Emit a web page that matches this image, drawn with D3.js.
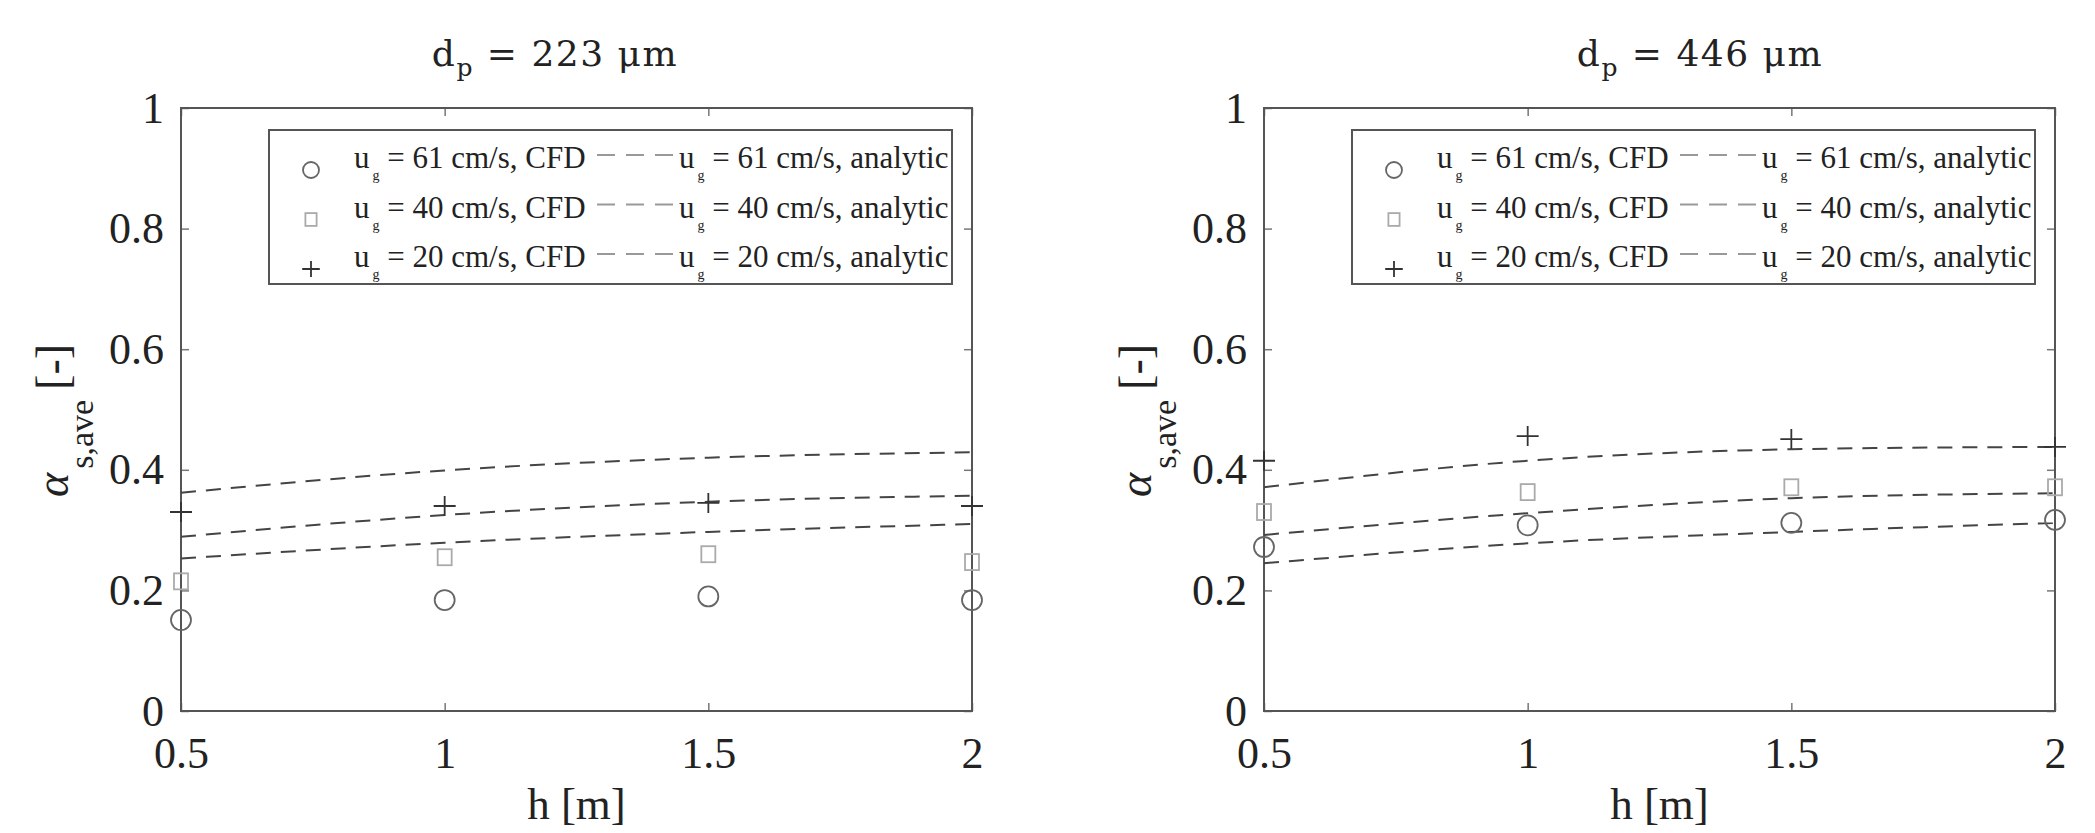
<!DOCTYPE html>
<html>
<head>
<meta charset="utf-8">
<script src="https://cdn.jsdelivr.net/npm/d3@7"></script>
<style>
  body { margin: 0; background: #fff; }
  text { font-family: "Liberation Serif", serif; fill: #222; }
</style>
</head>
<body>
<div id="chart"></div>
<script>
const width = 2095;
const height = 833;

// values
const hValues = [0.5, 1, 1.5, 2];
const hTicks = [0.5, 1, 1.5, 2];
const alphaTicks = [0, 0.2, 0.4, 0.6, 0.8, 1];
const velocities = ["61", "40", "20"];

const cfd223_61 = [0.151, 0.184, 0.19, 0.184];
const cfd223_40 = [0.215, 0.255, 0.26, 0.247];
const cfd223_20 = [0.33, 0.34, 0.345, 0.34];
const ana223_61 = [0.253, 0.279, 0.297, 0.31];
const ana223_40 = [0.289, 0.325, 0.347, 0.357];
const ana223_20 = [0.362, 0.399, 0.42, 0.429];

const cfd446_61 = [0.272, 0.308, 0.312, 0.317];
const cfd446_40 = [0.33, 0.363, 0.371, 0.371];
const cfd446_20 = [0.415, 0.456, 0.451, 0.438];
const ana446_61 = [0.245, 0.278, 0.297, 0.312];
const ana446_40 = [0.292, 0.328, 0.353, 0.361];
const ana446_20 = [0.371, 0.415, 0.434, 0.438];

const panels = [
  { title: "223", left: 181, right: 972, titleX: 555,
    cfd: [cfd223_61, cfd223_40, cfd223_20], ana: [ana223_61, ana223_40, ana223_20] },
  { title: "446", left: 1264, right: 2055, titleX: 1700,
    cfd: [cfd446_61, cfd446_40, cfd446_20], ana: [ana446_61, ana446_40, ana446_20] }
];

const plotTop = 108, plotBottom = 711;
const markerColor = ["#666", "#aaa", "#333"];

const svg = d3.select("#chart")
  .append("svg")
  .attr("width", width)
  .attr("height", height)
  .attr("viewBox", [0, 0, width, height]);

svg.append("rect").attr("width", width).attr("height", height).attr("fill", "#fff");

// draws one marker of series i at (px,py)
function marker(g, i, px, py, s) {
  if (i === 0) {
    g.append("circle").attr("cx", px).attr("cy", py).attr("r", 10 * s)
      .attr("fill", "none").attr("stroke", markerColor[0]).attr("stroke-width", 1.8);
  } else if (i === 1) {
    g.append("rect").attr("x", px - 7 * s).attr("y", py - 8 * s)
      .attr("width", 14 * s).attr("height", 16 * s)
      .attr("fill", "none").attr("stroke", markerColor[1]).attr("stroke-width", 1.8);
  } else {
    g.append("path").attr("d", `M${px - 11 * s},${py}H${px + 11 * s}M${px},${py - 10 * s}V${py + 10 * s}`)
      .attr("stroke", markerColor[2]).attr("stroke-width", 1.8);
  }
}

panels.forEach(p => {
  const x = d3.scaleLinear().domain([0.5, 2]).range([p.left, p.right]);
  const y = d3.scaleLinear().domain([0, 1]).range([plotBottom, plotTop]);
  const g = svg.append("g");

  // axes with inward ticks
  const xa = g.append("g").attr("transform", `translate(0,${plotBottom})`)
    .call(d3.axisBottom(x).tickValues(hTicks).tickSize(-8).tickPadding(26).tickFormat(d3.format("")))
    .attr("font-size", 44);
  const xt = g.append("g").attr("transform", `translate(0,${plotTop})`)
    .call(d3.axisTop(x).tickValues(hTicks).tickSize(-8).tickFormat(""));
  const ya = g.append("g").attr("transform", `translate(${p.left},0)`)
    .call(d3.axisLeft(y).tickValues(alphaTicks).tickSize(-8).tickPadding(17).tickFormat(d3.format("")))
    .attr("font-size", 44);
  const yr = g.append("g").attr("transform", `translate(${p.right},0)`)
    .call(d3.axisRight(y).tickValues(alphaTicks).tickSize(-8).tickFormat(""));
  [xa, xt, ya, yr].forEach(a => {
    a.select(".domain").remove();
    a.attr("font-family", "Liberation Serif");
    a.selectAll(".tick line").attr("stroke", "#777").attr("stroke-width", 1.5);
    a.selectAll(".tick text").attr("fill", "#222");
  });

  g.append("rect")
    .attr("x", p.left).attr("y", plotTop)
    .attr("width", p.right - p.left).attr("height", plotBottom - plotTop)
    .attr("fill", "none").attr("stroke", "#555").attr("stroke-width", 2);

  // analytic curves
  const line = d3.line().x((d, i) => x(hValues[i])).y(d => y(d)).curve(d3.curveMonotoneX);
  p.ana.forEach(vals => {
    g.append("path").attr("d", line(vals))
      .attr("fill", "none").attr("stroke", "#444").attr("stroke-width", 2)
      .attr("stroke-dasharray", "15,10");
  });

  // CFD markers
  p.cfd.forEach((vals, i) => {
    vals.forEach((v, j) => marker(g, i, x(hValues[j]), y(v), 1));
  });

  // title
  const t = g.append("text").attr("x", p.titleX).attr("y", 66)
    .attr("text-anchor", "middle")
    .style("font-family", "DejaVu Serif").attr("font-size", 36).attr("letter-spacing", 1.5);
  t.append("tspan").text("d");
  t.append("tspan").attr("font-size", 25).attr("dy", 10).text("p");
  t.append("tspan").attr("dy", -10).text(" = " + p.title + " \u03bcm");

  // x label
  g.append("text").attr("x", (p.left + p.right) / 2).attr("y", 819)
    .attr("text-anchor", "middle").attr("font-size", 45).text("h [m]");

  // y label
  const yl = g.append("text")
    .attr("transform", `translate(${p.left - 113},497) rotate(-90)`)
    .attr("font-size", 46);
  yl.append("tspan").style("font-style", "italic").text("\u03b1");
  yl.append("tspan").attr("font-size", 34).attr("dx", 4).attr("dy", 25).text("s,ave");
  yl.append("tspan").attr("dy", -25).attr("dx", 10).text("[-]");

  // legend
  const lx = p.right - 20 - 683, ly = 130;
  const lg = g.append("g");
  lg.append("rect").attr("x", lx).attr("y", ly).attr("width", 683).attr("height", 154)
    .attr("fill", "#fff").attr("stroke", "#555").attr("stroke-width", 2);
  velocities.forEach((u, i) => {
    const by = ly + 38 + i * 49.5;
    marker(lg, i, lx + 42, by + 2, 0.8);
    lg.append("line").attr("x1", lx + 328).attr("x2", lx + 404)
      .attr("y1", by - 13).attr("y2", by - 13)
      .attr("stroke", "#999").attr("stroke-width", 2).attr("stroke-dasharray", "18,11");
    [[lx + 85, ", CFD"], [lx + 410, ", analytic"]].forEach(([tx, label]) => {
      const lt = lg.append("text").attr("x", tx).attr("y", by).attr("font-size", 31);
      lt.append("tspan").text("u");
      lt.append("tspan").attr("font-size", 14).attr("dy", 12).attr("dx", 3).text("g");
      lt.append("tspan").attr("dy", -12).text(" = " + u + " cm/s" + label);
    });
  });
});
</script>
</body>
</html>
